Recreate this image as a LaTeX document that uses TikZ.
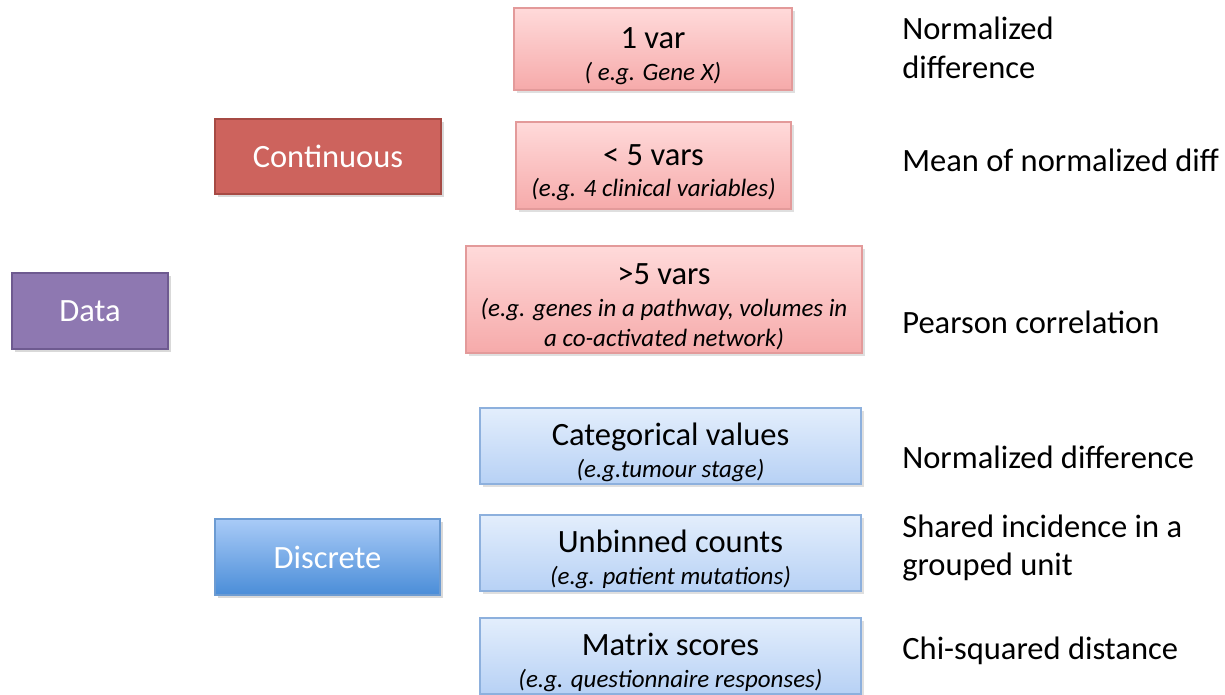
\documentclass[tikz,border=0pt]{standalone}
\usepackage{fontspec}
\setmainfont{Carlito}
\usetikzlibrary{shadows}
\definecolor{datafill}{HTML}{8E78B1}
\definecolor{dataline}{HTML}{6E5A90}
\definecolor{contfill}{HTML}{CD635D}
\definecolor{contline}{HTML}{A64A44}
\definecolor{disctop}{HTML}{A9CBF7}
\definecolor{discbot}{HTML}{4A8DD8}
\definecolor{discline}{HTML}{6C9BD2}
\definecolor{pinktop}{HTML}{FFDADA}
\definecolor{pinkbot}{HTML}{F6AAAA}
\definecolor{pinkline}{HTML}{E39A9A}
\definecolor{bluetop}{HTML}{E3EEFC}
\definecolor{bluebot}{HTML}{B7D1F5}
\definecolor{blueline}{HTML}{8DB0DD}
\tikzset{
  big/.style={font=\fontsize{18.5}{22}\selectfont},
  kind/.style={big, draw, line width=1.2pt, text=white, inner sep=0pt,
    drop shadow={opacity=0.3, shadow xshift=0.05cm, shadow yshift=-0.05cm}},
  sub/.style={big, draw, line width=0.8pt, align=center, inner sep=0pt,
    drop shadow={opacity=0.25, shadow xshift=0.05cm, shadow yshift=-0.05cm}},
  pinkbox/.style={sub, draw=pinkline, top color=pinktop, bottom color=pinkbot},
  bluebox/.style={sub, draw=blueline, top color=bluetop, bottom color=bluebot},
  measure/.style={big, anchor=west, align=left, inner sep=0pt}
}
\newcommand{\egfont}{\fontsize{14.2}{17}\selectfont\itshape}
\newcommand{\hd}{\rule{0pt}{20pt}}
\begin{document}
\begin{tikzpicture}
  \useasboundingbox (0,0) rectangle (24.5,-13.88);
  \node[kind, draw=dataline, fill=datafill, minimum width=3.12cm, minimum height=1.52cm] (data) at (1.80,-6.22) {Data};
  \node[kind, draw=contline, fill=contfill, minimum width=4.52cm, minimum height=1.50cm] (cont) at (6.56,-3.13) {Continuous};
  \node[kind, draw=discline, top color=disctop, bottom color=discbot, minimum width=4.50cm, minimum height=1.52cm] (disc) at (6.55,-11.14) {Discrete};

  \node[pinkbox, minimum width=5.56cm, minimum height=1.64cm] (onevar) at (13.06,-0.98) {\hd 1 var\\[-4pt]\egfont ( e.g. Gene X)};
  \node[pinkbox, minimum width=5.50cm, minimum height=1.74cm] (fewvars) at (13.07,-3.31) {\hd < 5 vars\\[-4pt]\egfont (e.g. 4 clinical variables)};
  \node[pinkbox, minimum width=7.92cm, minimum height=2.14cm] (manyvars) at (13.28,-5.99) {\hd >5 vars\\[-4pt]\egfont (e.g. genes in a pathway, volumes in\\[-5pt]\egfont a co-activated network)};

  \node[bluebox, minimum width=7.62cm, minimum height=1.52cm] (categ) at (13.41,-8.92) {\hd Categorical values\\[-4pt]\egfont (e.g.tumour stage)};
  \node[bluebox, minimum width=7.62cm, minimum height=1.52cm] (unbinned) at (13.41,-11.06) {\hd Unbinned counts\\[-4pt]\egfont (e.g. patient mutations)};
  \node[bluebox, minimum width=7.62cm, minimum height=1.52cm] (matrix) at (13.41,-13.12) {\hd Matrix scores\\[-4pt]\egfont (e.g. questionnaire responses)};

  \node[measure] (m1) at (18.04,-0.96) {Normalized\\difference};
  \node[measure] (m2) at (18.04,-3.20) {Mean of normalized diff};
  \node[measure] (m3) at (18.04,-6.44) {Pearson correlation};
  \node[measure] (m4) at (18.04,-9.14) {Normalized difference};
  \node[measure] (m5) at (18.04,-10.96) {Shared incidence in a\\grouped unit};
  \node[measure] (m6) at (18.04,-13.02) {Chi-squared distance};
\end{tikzpicture}
\end{document}
